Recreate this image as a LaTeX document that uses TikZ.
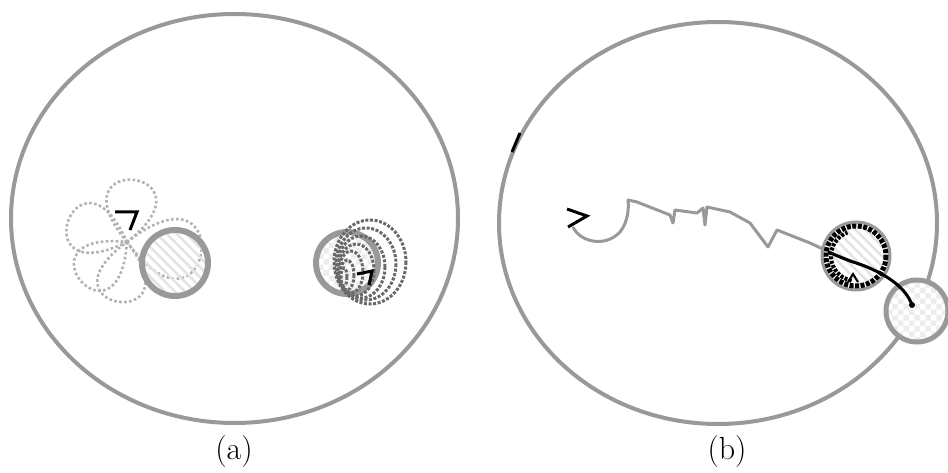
\documentclass[tikz,border=0pt]{standalone}
\usetikzlibrary{patterns,patterns.meta,calc}
\definecolor{arena}{RGB}{153,153,153}
\definecolor{petal}{RGB}{178,178,178}
\definecolor{cloud}{RGB}{105,105,105}
\begin{document}
\begin{tikzpicture}[x=1pt,y=-1pt,
  every node/.style={font=\fontsize{32}{36}\selectfont},
  arenaline/.style={draw=arena, line width=4pt},
  ring/.style={draw=arena, line width=6pt},
  hatched/.style={pattern={Lines[angle=-45,distance=7pt,line width=2.5pt]}, pattern color=gray!22},
  checked/.style={pattern=checkerboard, pattern color=gray!14},
  dotted trail/.style={draw=petal, line width=2.6pt, dash pattern=on 2.6pt off 2.4pt},
  cloud trail/.style={draw=cloud, line width=3pt, dash pattern=on 3pt off 1.6pt},
  solid trail/.style={draw=arena, line width=3pt, line join=round},
  agent/.style={draw=black, line width=3pt, line join=miter}]
\useasboundingbox (0,0) rectangle (948,473);

\draw[arenaline] (234.5,218.5) ellipse [x radius=223.5, y radius=204.5];
\draw[arenaline] (718,223) ellipse [x radius=219, y radius=201];
\draw[black, line width=3pt] (520,133) -- (512,152);

\coordinate (flower) at (127,242);
\foreach \ang/\len in {-84/60, -160/60, 140/58, 98/58, 8/72}
  \draw[dotted trail] (flower) .. controls ($(flower)+({\ang-46}:{2.0*\len})$) and ($(flower)+({\ang+46}:{2.0*\len})$) .. (flower);
\draw[ring, hatched] (175,263) circle [radius=33];
\draw[agent] (115,212) -- (137,212) -- (130,230);

\draw[ring, checked] (347,263) circle [radius=31];
\foreach \cx/\cy/\rx/\ry in {370/262/36/42, 366/264/30/36, 361/267/24/31, 356/270/18/26, 351/272/12/21, 347/275/7/15, 344/277/3/9}
  \draw[cloud trail] (\cx,\cy) ellipse [x radius=\rx, y radius=\ry];
\draw[agent] (357,274) -- (372,271) -- (369,285);

\draw[ring, line width=5pt, checked, preaction={fill=white}] (917,311) circle [radius=31];

\draw[draw=arena, line width=3pt, hatched] (856,256) circle [radius=34];
\draw[solid trail] (573,227) .. controls (580,242) and (605,248) .. (620,232) .. controls (628,222) and (629,208) .. (628,200)
  -- (637,202) -- (670,215) -- (673,223) -- (675,210) -- (697,213) -- (703,208) -- (705,225) -- (707,207)
  -- (730,212) -- (750,223) -- (768,247) -- (777,230) -- (810,243) -- (840,257) -- (870,268);
\draw[black, line width=5pt, dash pattern=on 4pt off 1.5pt] (856,256) circle [radius=30];
\draw[black, line width=4pt, dash pattern=on 3pt off 1.5pt] (856,256) ++(100:25) arc [start angle=100, end angle=250, radius=25];
\draw[agent] (567,209) -- (587,216) -- (568,227);

\draw[black, line width=3pt] (828,252) -- (850,261) .. controls (880,270) and (905,285) .. (912,305);
\fill[black] (912,305) circle [radius=3];
\draw[black, line width=2pt] (848,282) -- (853,274) -- (858,282);

\node (labela) at (234,452) {(a)};
\node (labelb) at (727,452) {(b)};
\end{tikzpicture}
\end{document}
